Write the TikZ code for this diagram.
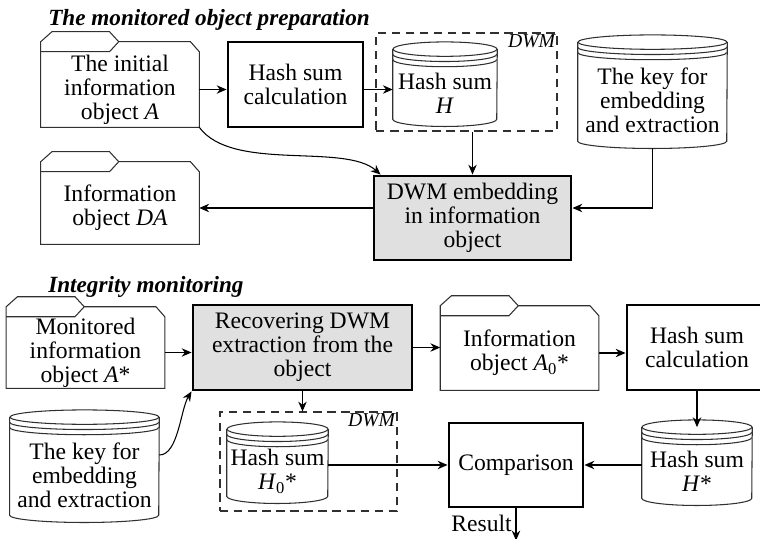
\documentclass[tikz,border=0pt]{standalone}
\usepackage{fontspec}
\setmainfont{Liberation Serif}
\usetikzlibrary{arrows.meta, positioning, calc}
\definecolor{procgray}{HTML}{E0E0E0}
\definecolor{linegray}{HTML}{303030}

% folder outline round a named node (the node is the part below the tab line)
\newcommand{\folderframe}[1]{%
  \draw[frame] (#1.south west) -- ([yshift=0.25cm]#1.north west)
    -- ([xshift=0.28cm,yshift=0.5cm]#1.north west)
    -- ([xshift=1.72cm,yshift=0.5cm]#1.north west)
    -- ([xshift=1.95cm,yshift=0.25cm]#1.north west)
    -- ([xshift=-0.22cm,yshift=0.25cm]#1.north east)
    -- (#1.north east) -- (#1.south east) -- cycle;
  \draw[frame] (#1.north west) -- ([xshift=1.72cm]#1.north west)
    -- ([xshift=1.95cm,yshift=0.25cm]#1.north west);}
% drum outline round a named node, #2 = half width
\newcommand{\drumframe}[2]{%
  \draw[frame] ([yshift=0.44cm]#1.north) ellipse [x radius=#2, y radius=0.18cm];
  \draw[frame] ([yshift=0.31cm]#1.north west) arc[start angle=180, end angle=360, x radius=#2, y radius=0.18cm];
  \draw[frame] ([yshift=0.18cm]#1.north west) arc[start angle=180, end angle=360, x radius=#2, y radius=0.18cm];
  \draw[frame] ([yshift=0.44cm]#1.north west) -- (#1.south west)
    arc[start angle=180, end angle=360, x radius=#2, y radius=0.18cm]
    -- ([yshift=0.44cm]#1.north east);}

\begin{document}
\begin{tikzpicture}[
  every node/.style={font=\fontsize{16.8}{17}\selectfont},
  frame/.style={draw=linegray, line width=0.75pt},
  folder/.style={minimum width=3.95cm, minimum height=1.8cm, align=center, inner sep=0pt},
  drum/.style={align=center, inner sep=0pt},
  proc/.style={draw, line width=2.1pt, align=center, inner sep=0pt},
  dwm/.style={draw=linegray, line width=0.75pt, dash pattern=on 6pt off 4pt},
  tag/.style={font=\fontsize{14}{14}\selectfont\itshape, inner sep=1.5pt},
  title/.style={font=\fontsize{16.5}{16.5}\selectfont\bfseries\itshape, inner sep=0pt},
  arr/.style={-{Stealth[length=7pt, width=6pt]}, line width=0.75pt}
]
  \useasboundingbox (0,0) rectangle (19,-13.45);
  \node[title, anchor=base west] (titlePrep) at (1.2,-0.625) {The monitored object preparation};
  \node[title, anchor=base west] (titleMon) at (1.2,-7.3) {Integrity monitoring};

  % preparation
  \node[folder, minimum height=1.875cm] (objA) at (3.0,-2.2375) {The initial\\information\\object \textit{A}};
  \node[proc, minimum width=3.375cm, minimum height=2.125cm] (calcA) at (7.3875,-2.1125) {Hash sum\\calculation};
  \node[dwm, minimum width=4.525cm, minimum height=2.45cm] (dwmA) at (11.6625,-2.05) {};
  \node[tag, anchor=north east] (dwmAtag) at (dwmA.north east) {DWM};
  \node[drum, minimum width=2.6cm, minimum height=1.3cm] (hashA) at (11.125,-2.325) {Hash sum\\\textit{H}};
  \node[drum, minimum width=3.725cm, minimum height=2.025cm] (keyA) at (16.3125,-2.5125) {The key for\\embedding\\and extraction};
  \node[proc, fill=procgray, minimum width=4.925cm, minimum height=2.1cm] (embed) at (11.8125,-5.45) {DWM embedding\\in information\\object};
  \node[folder] (objDA) at (3.0,-5.2) {Information\\object \textit{DA}};
  \folderframe{objA}
  \folderframe{objDA}
  \drumframe{hashA}{1.3cm}
  \drumframe{keyA}{1.8625cm}

  \draw[arr] (objA.east) -- (calcA.west |- objA.east);
  \draw[arr] (calcA.east |- objA.east) -- (hashA.west |- objA.east);
  \draw[arr] (embed.north |- dwmA.south) -- (embed.north);
  \draw[arr] ([yshift=-0.18cm]keyA.south) |- (embed.east |- objDA.east);
  \draw[arr] (embed.west |- objDA.east) -- (objDA.east);
  \draw[arr] (objA.south east) .. controls +(0.825,-1.125) and +(-0.9,0.8) .. ([xshift=0.2cm]embed.north west);

  % monitoring
  \node[folder, minimum height=1.775cm] (objM) at (2.1375,-8.8125) {Monitored\\information\\object \textit{A}*};
  \node[proc, fill=procgray, minimum width=5.475cm, minimum height=2.125cm] (recov) at (7.5625,-8.6875) {Recovering DWM\\extraction from the\\object};
  \node[folder, minimum height=1.85cm] (objA0) at (12.9875,-8.825) {Information\\object \textit{A}\textsubscript{0}*};
  \node[proc, minimum width=3.5cm, minimum height=2.125cm] (calcM) at (17.425,-8.6875) {Hash sum\\calculation};
  \node[drum, minimum width=2.75cm, minimum height=1.325cm] (hashM) at (17.425,-11.7875) {Hash sum\\\textit{H}*};
  \node[proc, minimum width=3.35cm, minimum height=2.1cm] (cmp) at (12.9,-11.625) {Comparison};
  \node[dwm, minimum width=4.425cm, minimum height=2.475cm] (dwmM) at (7.7125,-11.5375) {};
  \node[tag, anchor=north east] (dwmMtag) at (dwmM.north east) {DWM};
  \node[drum, minimum width=2.525cm, minimum height=1.225cm] (hashM0) at (6.9375,-11.7875) {Hash sum\\\textit{H}\textsubscript{0}*};
  \node[drum, minimum width=3.725cm, minimum height=2.0cm] (keyM) at (2.1125,-11.875) {The key for\\embedding\\and extraction};
  \coordinate (resout) at ($(cmp.south)+(0,-0.8)$);
  \node[anchor=east, inner sep=0pt] (res) at ([xshift=-0.1cm,yshift=0.42cm]resout) {Result};
  \folderframe{objM}
  \folderframe{objA0}
  \drumframe{hashM}{1.375cm}
  \drumframe{hashM0}{1.2625cm}
  \drumframe{keyM}{1.8625cm}

  \draw[arr] (objM.east) -- (recov.west |- objM.east);
  \draw[arr] (recov.east) -- (objA0.west |- recov.east);
  \draw[arr] (objA0.east) -- (calcM.west |- objA0.east);
  \draw[arr] (hashM.north |- calcM.south) -- ([yshift=0.44cm]hashM.north);
  \draw[arr] (hashM.west |- cmp.east) -- (cmp.east);
  \draw[arr] (hashM0.east |- cmp.west) -- (cmp.west);
  \draw[arr] (recov.south) -- (recov.south |- dwmM.north);
  \draw[arr] ([yshift=0.5cm]keyM.east) .. controls +(0.475,0) and +(-0.275,-0.45) .. (recov.south west);
  \draw[arr] (cmp.south) -- (resout);
\end{tikzpicture}
\end{document}
